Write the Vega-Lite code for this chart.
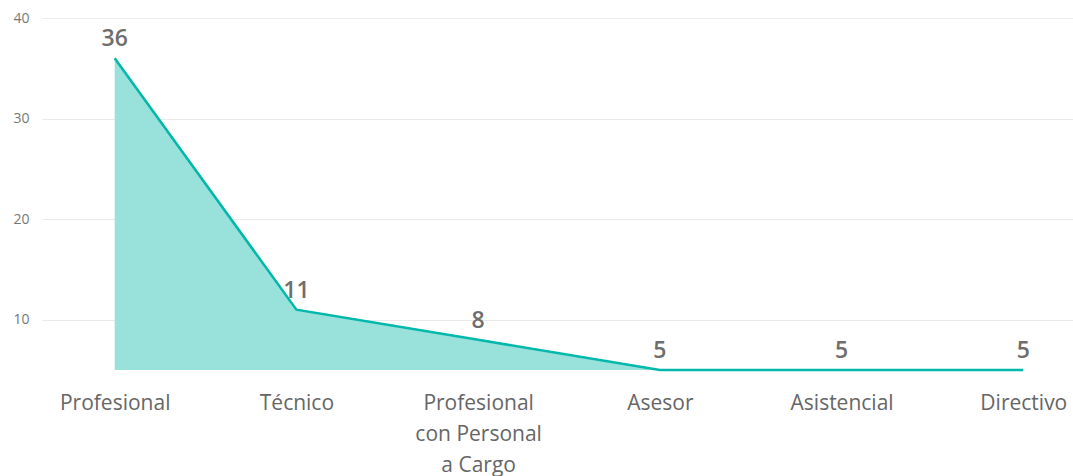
{
  "$schema": "https://vega.github.io/schema/vega-lite/v6.json",
  "width": 1054,
  "height": 352,
  "autosize": {"type": "none"},
  "padding": {"left": 42, "top": 18, "right": 0, "bottom": 106},
  "background": "white",
  "data": {"values": [
    {"cargo": "Profesional", "n": 36},
    {"cargo": "Técnico", "n": 11},
    {"cargo": "Profesional con Personal a Cargo", "n": 8},
    {"cargo": "Asesor", "n": 5},
    {"cargo": "Asistencial", "n": 5},
    {"cargo": "Directivo", "n": 5}
  ]},
  "config": {"view": {"stroke": null}, "font": "Open Sans"},
  "encoding": {
    "x": {"field": "cargo", "type": "nominal", "sort": null,
      "scale": {"type": "point", "padding": 0.4},
      "axis": {"title": null, "domain": false, "ticks": false, "labelAngle": 0,
        "labelFontSize": 21, "labelColor": "#666666", "labelPadding": 22,
        "labelLineHeight": 31, "labelBaseline": "top", "labelFont": "Open Sans",
        "labelExpr": "datum.label == 'Profesional con Personal a Cargo' ? ['Profesional', 'con Personal', 'a Cargo'] : datum.label"}},
    "y": {"field": "n", "type": "quantitative",
      "scale": {"domain": [5, 40], "zero": false, "nice": false},
      "axis": {"title": null, "domain": false, "ticks": false, "values": [10, 20, 30, 40],
        "labelFontSize": 14, "labelColor": "#777777", "labelPadding": 13,
        "gridColor": "#eaeaea", "gridWidth": 1}}
  },
  "layer": [
    {"mark": {"type": "area", "color": "#98E2DB", "opacity": 1},
     "encoding": {"y2": {"datum": 5}}},
    {"mark": {"type": "line", "color": "#01B8AA", "strokeWidth": 2.5}},
    {"mark": {"type": "text", "baseline": "bottom", "dy": -7, "fontSize": 23, "fontWeight": 600, "color": "#6e6e6e", "font": "Open Sans"},
     "encoding": {"text": {"field": "n", "type": "quantitative"}}}
  ]
}
